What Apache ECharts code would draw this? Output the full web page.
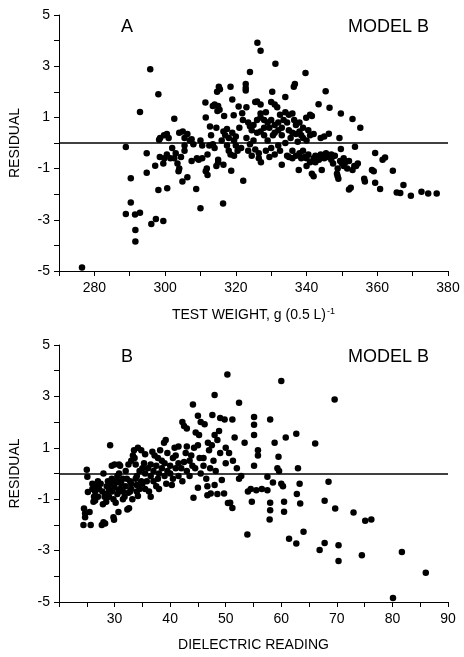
<!DOCTYPE html>
<html>
<head>
<meta charset="utf-8">
<script src="https://cdn.jsdelivr.net/npm/echarts@6/dist/echarts.min.js"></script>
<style>
html,body{margin:0;padding:0;background:#fff;}
#chart{width:464px;height:657px;}
</style>
</head>
<body>
<div id="chart"></div>
<script>
// Panel A: residual vs test weight, g (0.5 L)^-1
var testWeightResiduals = [
[276.5,-4.86],[288.9,-0.16],[288.9,-2.77],[290.3,-1.38],[290.3,-2.32],[291.5,-2.79],[292.9,-2.72],[291.6,-3.4],[291.6,-3.85],[292.9,1.21],
[294.8,-0.4],[294.8,-1.16],[295.8,2.88],[296.1,-3.16],[297.4,-2.97],[299.5,-3.05],[298.1,1.9],[298.1,-1.84],[300.6,-1.77],[297.2,-0.89],
[298.3,0.13],[299.7,0.3],[298.6,0.2],[298.5,-0.55],[299.8,-0.6],[300.5,-0.45],[299.5,-0.8],[301,0.2],[300.5,0.35],[301.5,-0.6],
[302.6,0.95],[302.6,-0.6],[303,-0.4],[302,-0.2],[304,0.4],[305,0.45],[306.3,0.35],[305.5,0.2],[303.5,-0.8],[303.8,-1.1],
[304,-1.0],[304.9,-1.5],[306.3,-1.34],[305.5,-0.1],[305.5,-0.3],[307,0.1],[308,-0.05],[307.5,0.15],[308.8,-1.8],[309,-0.6],
[309.5,-0.65],[310,-2.55],[310,0.1],[310.5,-0.1],[311.5,-1.1],[311.8,-1.0],[312,-1.25],[311.4,1.58],[311.5,1.0],[312.7,0.64],
[312.5,-0.1],[313.5,-0.05],[314,-0.2],[314,1.5],[314.7,2.0],[315.2,2.2],[315.5,2.1],[313.5,1.45],[315,1.45],[314.8,1.25],
[315.4,1.3],[314.5,-0.9],[315,-0.75],[315,-0.65],[316.4,-2.36],[316.5,-0.85],[316.7,1.05],[316.5,0.45],[317,0.3],[317.5,0.55],
[318,0.2],[318,-0.3],[318.5,-0.45],[318.7,-1.08],[318.5,2.2],[319,1.7],[319.4,1.08],[319,0.4],[319.5,0.1],[320,0.25],
[319.5,-0.5],[320,-0.1],[320.5,-0.3],[320.8,1.43],[321.8,1.16],[322.1,-1.47],[322.8,2.3],[322.8,2.15],[322.8,2.05],[323,1.4],
[323.5,0.8],[324,0.65],[324.5,0.5],[324,2.77],[324,-0.05],[325,0.1],[325.5,1.6],[326.1,3.92],[327,3.6],[326,1.62],
[327,1.5],[327,1.15],[327,1.0],[326.5,-0.6],[326.5,-0.4],[327.1,-0.75],[326,0.4],[327,0.45],[328,0.3],[328,0.9],
[329,0.8],[329.5,0.6],[330,1.6],[330.3,2.0],[331,1.5],[331.2,3.1],[331.7,1.4],[330,0.9],[331,0.7],[331,0.4],
[332,0.5],[332,-0.1],[330,-0.2],[331,-0.45],[332.5,-0.3],[333,-0.85],[333,0.3],[333.5,0.9],[334,1.8],[334,1.2],
[334.5,0.8],[335,1.1],[335,0.5],[335.5,0.2],[334.5,-0.5],[335,-0.55],[336,-0.6],[336.4,2.2],[336.7,2.3],[336,1.15],
[336.5,0.9],[337,0.7],[337,0.35],[337.5,0.05],[337.8,-1.05],[338,0.45],[338.5,0.3],[337,-0.5],[338,-0.4],[338.5,-0.6],
[339,0.2],[339.7,2.73],[339.9,0.99],[339.5,-0.55],[340,-0.6],[340,0.1],[340.5,-0.45],[341,1.1],[341.5,1.05],[341,-0.75],
[341.5,-1.2],[342,-1.3],[342,-0.6],[342.5,-0.5],[342,0.35],[343.4,1.51],[343,-0.55],[343.5,-0.65],[344.3,-1.05],[344,0.2],
[345,0.25],[345.4,2.02],[345,-0.6],[346,-0.55],[346.5,1.38],[346.3,0.36],[346.5,-0.5],[347,-0.65],[347.5,-0.8],[348,-0.5],
[348.6,-1.2],[348.8,-1.0],[348.8,-1.3],[349,-1.4],[349.3,0.2],[349.7,1.15],[349.7,-0.23],[349.5,-0.7],[350,-0.8],[350.5,-0.6],
[350.5,-0.9],[351,-0.75],[352,-1.82],[352.5,-1.75],[353,0.94],[353,-1.05],[353.5,-0.9],[353.7,-0.15],[354,-0.9],[354.5,-0.8],
[355.2,0.6],[356.3,-1.4],[356.5,-1.5],[358.5,-1.05],[359,-1.1],[359.4,-0.39],[359.4,-1.55],[360.8,-1.8],[361.5,-0.65],[362.2,-0.57],
[364.4,-1.08],[365.5,-1.93],[366.5,-1.95],[367.4,-1.64],[369.5,-2.06],[372.5,-1.9],[374.4,-1.97],[376.8,-1.97],
[321,0.6],[322,0.9],[323,0.2],[325,0.7],[326,0.9],[328,0.6],[328.5,1.2],[329,0.1],[330.5,0.3],[332,0.8],
[332.5,1.1],[333,0.6],[334,0.0],[336,0.4],[338,0.8],[339,0.6],[340.5,0.5],[341,0.3],[336,-0.3],[339,-0.3],
[344,-0.45],[345.5,-0.4],[347,-0.45],[342.5,-0.75],[340,-0.9],[352,-0.7],[351.5,-1.0],[316,0.1],[317.5,-0.1],[313,0.3],
[314.5,0.6],[321.5,-0.2],[323.5,-0.3],[324.5,-0.5],[325.5,-0.25],[328.5,-0.3],[329.5,-0.55],[310.5,-0.6],[312,-0.45],[307.5,-0.7],
[304.5,-0.55]
];

// Panel B: residual vs dielectric reading
var dielectricResiduals = [
[24.5,-1.36],[24.7,-1.55],[24.7,-1.7],[24.4,-2.0],[25.7,-2.0],[25,0.15],[25.1,-0.13],[25.2,-0.72],[26.2,-1.1],[26.5,-1.05],
[26.3,-0.9],[26.5,-0.7],[26.8,-0.5],[27,-0.3],[27.2,-0.6],[27.5,-0.4],[27.9,-1.2],[27.7,-2.0],[28,-1.9],[28.3,-1.95],
[28.5,-0.8],[28.6,-0.5],[28.8,-0.3],[29,-0.6],[29.2,1.1],[29.3,-0.4],[29.5,0.3],[29.5,-0.7],[29.8,-1.7],[29.9,-1.8],
[30,0.35],[30,-0.55],[30.2,-1.14],[30.3,-0.35],[30.5,-0.8],[30.7,-1.5],[30.8,0.35],[31,-0.6],[31,0.3],[31.2,-0.4],
[31.5,-0.7],[31.5,-0.2],[32,-0.5],[32,0.1],[32.3,-1.4],[32.6,-1.35],[32.5,-0.75],[32.8,-0.3],[33,0.5],[33.3,0.7],
[33,-0.6],[33.5,0.9],[33.6,0.6],[33.8,-0.2],[34,-0.45],[34.2,1.0],[34.2,-0.88],[34.5,0.1],[34.8,0.9],[35,-0.4],
[35.3,0.4],[35.5,0.75],[35.5,-0.6],[36,0.2],[36.5,-0.9],[36.5,0.35],[36.8,0.85],[37,-0.3],[37,0.1],[37.5,-0.5],
[37.5,0.3],[37.8,0.6],[38,-0.6],[38,0.0],[38.5,0.2],[38.9,1.2],[39,0.4],[39.2,1.3],[39.3,-0.4],[39.5,0.1],
[40,0.3],[40.3,-0.45],[40.5,0.6],[40.5,-0.2],[41,0.7],[41.5,1.05],[41.5,0.4],[42,0.2],[42.2,2.0],[42.2,-0.3],
[42.5,1.85],[42.5,0.45],[43,1.75],[43,1.05],[43,0.1],[43.5,0.5],[43.5,-0.1],[44,0.3],[44.1,2.68],[44.2,-0.94],
[44.3,1.0],[44.6,1.6],[45,2.25],[45,-0.55],[45,1.1],[45.2,1.5],[45.3,0.6],[45.5,0.0],[45.5,2.0],[46,0.3],
[46.2,1.92],[46.5,-0.2],[46.7,-0.85],[46.7,-0.5],[47,0.9],[47.3,-0.78],[47.6,2.28],[47.5,1.1],[47.8,0.5],[48,3.05],
[48,1.5],[48,-0.45],[48.2,0.1],[48.5,-0.8],[48.5,1.3],[48.8,1.65],[49,2.16],[49,0.8],[49.3,-0.25],[49.7,-0.78],
[49.8,2.1],[50,1.0],[50,0.4],[50.3,3.85],[50.4,-1.15],[50.6,0.8],[50.8,-1.14],[51.2,2.1],[51.2,-1.34],[51.3,0.5],
[51.6,1.4],[52,0.2],[52.4,2.75],[52.4,-0.2],[52.8,-0.1],[53.4,1.2],[53.9,-2.37],[54,-0.7],[54.5,-0.6],[54.7,-1.1],
[55.1,2.2],[55.1,1.9],[55.1,1.5],[55.1,0.3],[55.5,-0.65],[55.8,0.9],[55.8,0.7],[56.5,-0.6],[57.5,-0.13],[57.5,-0.65],
[58,2.1],[58,-1.14],[58,-1.43],[57.9,-1.79],[58.5,-0.35],[58.8,1.2],[59.3,0.2],[59.5,0.65],[59.6,0.1],[60,3.6],
[60,-0.4],[60.3,-0.5],[60.5,-1.1],[60.5,-1.49],[60.8,1.4],[61.4,-2.54],[62.7,1.55],[62.7,-2.72],[62.8,-0.8],[63,0.2],
[63.3,-0.4],[63.4,-1.17],[64,-2.27],[66.1,1.17],[66.9,-2.98],[67.8,-2.7],[67.8,-1.06],[68.5,-0.32],[69.6,2.88],[69.7,-1.36],
[70.3,-2.79],[70.3,-3.4],[73,-1.52],[74.5,-3.18],[75.1,-1.84],[76.2,-1.79],[80.1,-4.84],[81.7,-3.05],[86,-3.86],
[27.8,-0.7],[28.2,-0.9],[29.5,-0.2],[30.5,-0.1],[31.8,-0.9],[33.2,-1.0],[34.5,-0.6],[35.8,-0.3],[36.2,-0.7],[26,-0.4],
[28,0.0],[30.8,0.0],[32.5,0.35],[33.8,0.35],[35,0.2],[37.2,0.7],[38.2,0.9],[39.5,0.8],[40.8,1.0],
[29,-0.9],[29.8,-1.0],[30.8,-0.7],[31.5,-1.0],[32.2,-0.2],[33,-0.4],[34,-0.1],[34.8,-0.3],[35.5,0.0],[36.5,-0.1],
[37.8,-0.2],[38.5,0.5],[39,-0.1],[40,0.0],[41,0.2],[41.5,-0.1],[42.8,0.8],[43.8,0.7],[44.5,0.2],[46,0.6],
[46.8,1.2],[47.2,0.2],[28.5,-1.1],[27,-0.9],[26,-0.6],[25.5,-1.5],[31,-0.3],[32.8,-0.7],[34,-0.7],[30.2,-0.3]
];

var residualRange = [-5, 5];
var testWeightRange = [270, 380];
var dielectricRange = [20, 90];
var panelLetters = ['A', 'B'];
var modelLabel = 'MODEL B';
var yAxisTitle = 'RESIDUAL';
var xAxisTitles = ['TEST WEIGHT, g (0.5 L)', 'DIELECTRIC READING'];

var FONT = '"Liberation Sans", Arial, Helvetica, sans-serif';
var black = '#000';

function yAxisCfg(gridIndex) {
  return {
    gridIndex: gridIndex, type: 'value', min: residualRange[0], max: residualRange[1], interval: 1,
    name: yAxisTitle, nameLocation: 'middle', nameGap: 37, nameRotate: 90,
    nameTextStyle: {fontFamily: FONT, fontSize: 14, color: black},
    axisLine: {show: true, lineStyle: {color: black, width: 1}},
    axisTick: {show: true, length: 5, lineStyle: {color: black, width: 1}},
    axisLabel: {fontFamily: FONT, fontSize: 14, color: black, margin: 9,
      formatter: function (v) { return Math.abs(Math.round(v)) % 2 === 1 ? String(v) : ''; }},
    splitLine: {show: false}
  };
}

var option = {
  animation: false,
  backgroundColor: '#fff',
  grid: [
    {left: 58, top: 15, width: 390, height: 256},
    {left: 58, top: 345, width: 390, height: 257}
  ],
  xAxis: [
    {
      gridIndex: 0, type: 'value', min: testWeightRange[0], max: testWeightRange[1], interval: 10,
      name: '{t|' + xAxisTitles[0] + '}{s|-1}', nameLocation: 'middle', nameGap: 36,
      nameTextStyle: {rich: {
        t: {fontFamily: FONT, fontSize: 14, color: black},
        s: {fontFamily: FONT, fontSize: 9, color: black, verticalAlign: 'top', padding: [0, 0, 8, 1]}
      }},
      axisLine: {show: true, onZero: false, lineStyle: {color: black, width: 1}},
      axisTick: {show: true, length: 5, lineStyle: {color: black, width: 1}},
      axisLabel: {fontFamily: FONT, fontSize: 14, color: black, margin: 10,
        formatter: function (v) { return v % 20 === 0 ? String(v) : ''; }},
      splitLine: {show: false}
    },
    {
      gridIndex: 1, type: 'value', min: dielectricRange[0], max: dielectricRange[1], interval: 5,
      name: xAxisTitles[1], nameLocation: 'middle', nameGap: 36,
      nameTextStyle: {fontFamily: FONT, fontSize: 14, color: black},
      axisLine: {show: true, onZero: false, lineStyle: {color: black, width: 1}},
      axisTick: {show: true, length: 5, lineStyle: {color: black, width: 1}},
      axisLabel: {fontFamily: FONT, fontSize: 14, color: black, margin: 10,
        formatter: function (v) { return (v % 10 === 0 && v > dielectricRange[0]) ? String(v) : ''; }},
      splitLine: {show: false}
    }
  ],
  yAxis: [yAxisCfg(0), yAxisCfg(1)],
  series: [
    {
      type: 'scatter', xAxisIndex: 0, yAxisIndex: 0, data: testWeightResiduals,
      symbol: 'circle', symbolSize: 6.5, itemStyle: {color: black, opacity: 1},
      markLine: {silent: true, symbol: 'none', label: {show: false},
        lineStyle: {color: black, width: 1.5, type: 'solid'}, data: [{yAxis: 0}]}
    },
    {
      type: 'scatter', xAxisIndex: 1, yAxisIndex: 1, data: dielectricResiduals,
      symbol: 'circle', symbolSize: 6.5, itemStyle: {color: black, opacity: 1},
      markLine: {silent: true, symbol: 'none', label: {show: false},
        lineStyle: {color: black, width: 1.5, type: 'solid'}, data: [{yAxis: 0}]}
    }
  ],
  graphic: [
    {type: 'text', left: 121, top: 18, style: {text: panelLetters[0], font: '18px ' + FONT, fill: black}},
    {type: 'text', left: 348, top: 18, style: {text: modelLabel, font: '18px ' + FONT, fill: black}},
    {type: 'text', left: 121, top: 348, style: {text: panelLetters[1], font: '18px ' + FONT, fill: black}},
    {type: 'text', left: 348, top: 348, style: {text: modelLabel, font: '18px ' + FONT, fill: black}}
  ]
};

var chart = echarts.init(document.getElementById('chart'), null, {renderer: 'canvas'});
chart.setOption(option);
</script>
</body>
</html>
